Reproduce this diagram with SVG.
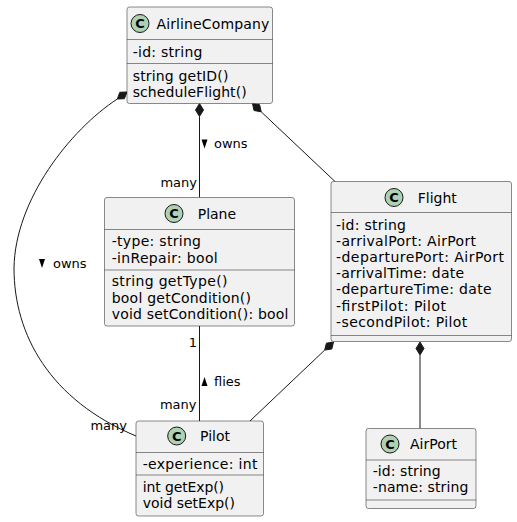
<svg xmlns="http://www.w3.org/2000/svg" width="517" height="522" viewBox="0 0 517 522">
<style>
.box{fill:#F1F1F1;stroke:#181818;stroke-width:0.5}
.sep{stroke:#181818;stroke-width:0.5}
.ico{fill:#ADD1B2;stroke:#181818;stroke-width:1}
.c{font-family:"DejaVu Sans",sans-serif;font-size:13px;font-weight:bold;fill:#000;text-anchor:middle}
.t{font-family:"DejaVu Sans",sans-serif;font-size:14px;fill:#000}
.l{font-family:"DejaVu Sans",sans-serif;font-size:13px;fill:#000}
.e{text-anchor:end}
.ln{fill:none;stroke:#181818;stroke-width:1}
.dia{fill:#181818;stroke:#181818;stroke-width:1}
.tri{fill:#000}
</style>
<rect width="517" height="522" fill="#FFFFFF"/>
<g id="connectors">
  <path class="ln" d="M117.3,99 C70,130 15,200 14,268 C14,335 50,400 136,436"/>
  <polygon class="dia" points="127,92 124.4,98.7 117.3,99 119.8,92.3"/>
  <polygon class="tri" points="39,259 45,259 42,268"/>
  <text class="l" x="53" y="267.5">owns</text>
  <text class="l e" x="127" y="430">many</text>

  <line class="ln" x1="199.5" y1="116.5" x2="199.5" y2="197.5"/>
  <polygon class="dia" points="199.5,103.5 203.5,110 199.5,116.5 195.5,110"/>
  <polygon class="tri" points="201.5,139.5 207.5,139.5 204.5,148.5"/>
  <text class="l" x="214" y="147.5">owns</text>
  <text class="l e" x="197" y="186.5">many</text>

  <line class="ln" x1="261.2" y1="111.8" x2="335" y2="181.5"/>
  <polygon class="dia" points="252.5,103.5 254,110.5 261.2,111.8 259.6,104.7"/>

  <line class="ln" x1="199.5" y1="326" x2="199.5" y2="421"/>
  <text class="l e" x="197" y="346.5">1</text>
  <polygon class="tri" points="201.5,386 207.5,386 204.5,377"/>
  <text class="l" x="214" y="386">flies</text>
  <text class="l e" x="196.5" y="409">many</text>

  <line class="ln" x1="324.7" y1="350.1" x2="250" y2="421"/>
  <polygon class="dia" points="333.5,342 331.8,349 324.7,350.1 326.4,343.2"/>

  <line class="ln" x1="420" y1="355" x2="420" y2="428.5"/>
  <polygon class="dia" points="420,342 424,348.5 420,355 416,348.5"/>
</g>
<g id="AirlineCompany">
  <rect class="box" x="127" y="7" width="145.5" height="96.5" rx="2.5"/>
  <circle class="ico" cx="140" cy="23.5" r="9"/>
  <text class="c" x="140" y="28">C</text>
  <text class="t" x="156.5" y="28.5" textLength="112.7" lengthAdjust="spacing">AirlineCompany</text>
  <line class="sep" x1="127" y1="39.5" x2="272.5" y2="39.5"/>
  <text class="t" x="132.7" y="56.5" textLength="69.7" lengthAdjust="spacing">-id: string</text>
  <line class="sep" x1="127" y1="63.5" x2="272.5" y2="63.5"/>
  <text class="t" x="132.7" y="80.5" textLength="95.7" lengthAdjust="spacing">string getID()</text>
  <text class="t" x="132.7" y="96.5" textLength="114" lengthAdjust="spacing">scheduleFlight()</text>
</g>
<g id="Plane">
  <rect class="box" x="104.5" y="197.5" width="190" height="128.5" rx="2.5"/>
  <circle class="ico" cx="174" cy="213.5" r="9"/>
  <text class="c" x="174" y="218">C</text>
  <text class="t" x="197.7" y="218.5">Plane</text>
  <line class="sep" x1="104.5" y1="229.5" x2="294.5" y2="229.5"/>
  <text class="t" x="111.7" y="246" textLength="89.3" lengthAdjust="spacing">-type: string</text>
  <text class="t" x="111.7" y="262.5" textLength="106" lengthAdjust="spacing">-inRepair: bool</text>
  <line class="sep" x1="104.5" y1="270" x2="294.5" y2="270"/>
  <text class="t" x="111.7" y="286" textLength="115.7" lengthAdjust="spacing">string getType()</text>
  <text class="t" x="111.7" y="302.5" textLength="139.3" lengthAdjust="spacing">bool getCondition()</text>
  <text class="t" x="111.7" y="319" textLength="176.7" lengthAdjust="spacing">void setCondition(): bool</text>
</g>
<g id="Flight">
  <rect class="box" x="331" y="181.5" width="180.5" height="160" rx="2.5"/>
  <circle class="ico" cx="394" cy="197.5" r="9"/>
  <text class="c" x="394" y="202">C</text>
  <text class="t" x="417.7" y="202.5">Flight</text>
  <line class="sep" x1="331" y1="212.5" x2="511.5" y2="212.5"/>
  <text class="t" x="336" y="230" textLength="70" lengthAdjust="spacing">-id: string</text>
  <text class="t" x="336" y="246.1" textLength="140" lengthAdjust="spacing">-arrivalPort: AirPort</text>
  <text class="t" x="336" y="262.2" textLength="168" lengthAdjust="spacing">-departurePort: AirPort</text>
  <text class="t" x="336" y="278.3" textLength="128" lengthAdjust="spacing">-arrivalTime: date</text>
  <text class="t" x="336" y="294.4" textLength="155.7" lengthAdjust="spacing">-departureTime: date</text>
  <text class="t" x="336" y="310.5" textLength="110" lengthAdjust="spacing">-firstPilot: Pilot</text>
  <text class="t" x="336" y="326.6" textLength="131.3" lengthAdjust="spacing">-secondPilot: Pilot</text>
  <line class="sep" x1="331" y1="335.5" x2="511.5" y2="335.5"/>
</g>
<g id="Pilot">
  <rect class="box" x="136" y="421" width="127.5" height="95" rx="2.5"/>
  <circle class="ico" cx="176.7" cy="436" r="9"/>
  <text class="c" x="176.7" y="440.5">C</text>
  <text class="t" x="200" y="441">Pilot</text>
  <line class="sep" x1="136" y1="452.5" x2="263.5" y2="452.5"/>
  <text class="t" x="142.7" y="469" textLength="114.7" lengthAdjust="spacing">-experience: int</text>
  <line class="sep" x1="136" y1="475" x2="263.5" y2="475"/>
  <text class="t" x="142.7" y="491.5" textLength="81.3" lengthAdjust="spacing">int getExp()</text>
  <text class="t" x="142.7" y="508" textLength="92.3" lengthAdjust="spacing">void setExp()</text>
</g>
<g id="AirPort">
  <rect class="box" x="366" y="428.5" width="110" height="80" rx="2.5"/>
  <circle class="ico" cx="390" cy="444" r="9"/>
  <text class="c" x="390" y="448.5">C</text>
  <text class="t" x="410" y="449">AirPort</text>
  <line class="sep" x1="366" y1="460" x2="476" y2="460"/>
  <text class="t" x="372.7" y="475.5" textLength="68" lengthAdjust="spacing">-id: string</text>
  <text class="t" x="372.7" y="492" textLength="95.7" lengthAdjust="spacing">-name: string</text>
  <line class="sep" x1="366" y1="500" x2="476" y2="500"/>
</g>
</svg>
